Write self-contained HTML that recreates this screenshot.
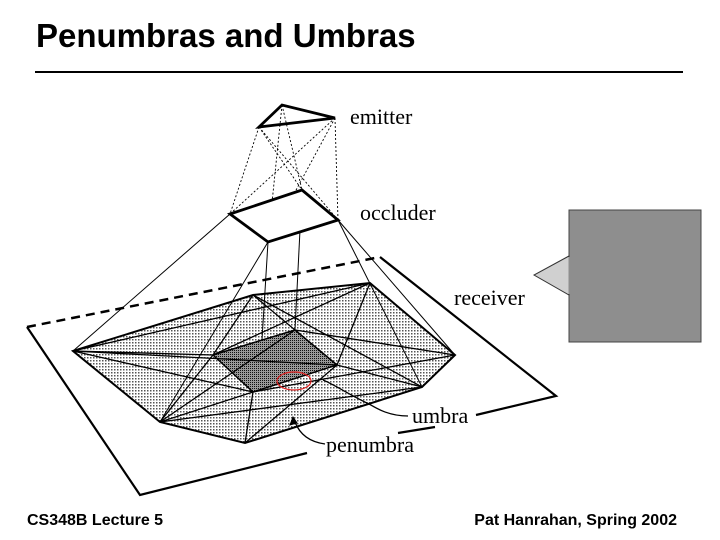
<!DOCTYPE html>
<html><head><meta charset="utf-8"><style>
body{margin:0;width:720px;height:540px;background:#fff;overflow:hidden;position:relative}
.t{position:absolute;font-family:"Liberation Sans",sans-serif;font-weight:bold;color:#000;white-space:nowrap}
</style></head><body>
<div class="t" style="left:36px;top:17px;font-size:33px">Penumbras and Umbras</div>
<div style="position:absolute;left:35px;top:71px;width:648px;height:2px;background:#000"></div>
<div class="t" style="left:27px;top:512px;font-size:16px">CS348B Lecture 5</div>
<div class="t" style="right:43px;top:512px;font-size:16px">Pat Hanrahan, Spring 2002</div>
<svg width="720" height="540" style="position:absolute;left:0;top:0" xmlns="http://www.w3.org/2000/svg">
<defs>
<pattern id="d" width="3" height="3" patternUnits="userSpaceOnUse"><rect width="3" height="3" fill="#fff"/><rect width="1.5" height="1.5" fill="#555"/></pattern>
<pattern id="u" width="2" height="2" patternUnits="userSpaceOnUse"><rect width="2" height="2" fill="#999"/><rect width="1" height="1" fill="#111"/></pattern>
</defs>
<g fill="none" stroke="#000">
<path d="M27,327 L380,257" stroke-width="2.5" stroke-dasharray="9,6"/>
<path d="M380,257 L556,396 L476,415 M435,427 L398,433 M307,453 L140,495 L27,327" stroke-width="2.2"/>
<polygon points="73,351 253,295 370,283 455,355 422,387 245,443 160,422" fill="url(#d)" stroke-width="2"/>
<polygon points="213,355 295,330 337,365 253,392" fill="url(#u)" stroke-width="1.5"/>
<g stroke-width="1.3">
<path d="M73,351 L213,355 L370,283"/>
<path d="M73,351 L337,365 L422,387"/>
<path d="M253,295 L295,330 L455,355"/>
<path d="M253,295 L213,355 L160,422"/>
<path d="M370,283 L337,365 L245,443"/>
<path d="M160,422 L253,392 L455,355"/>
<path d="M245,443 L253,392 L73,351"/>
<path d="M160,422 L422,387"/>
<path d="M73,351 L370,283"/>
<path d="M253,295 L422,387"/>
<path d="M160,422 L295,330"/>
</g>
<g stroke-width="1">
<path d="M230,214 L73,351"/>
<path d="M338,220 L455,355"/>
<path d="M338,220 L422,387"/>
<path d="M268,242 L160,422"/>
<path d="M268,242 L262,340"/>
<path d="M302,190 L295,330"/>
</g>
<g stroke-width="0.9" stroke-dasharray="2,2">
<path d="M259,127 L230,214 M259,127 L338,220 M282,105 L268,242 M282,105 L302,190 M335,118 L230,214 M335,118 L268,242 M335,118 L338,220 M259,127 L302,190"/>
</g>
<polygon points="230,214 302,190 338,220 268,242" stroke-width="2.8" fill="#fff"/>
<polygon points="259,127 282,105 335,118" stroke-width="2.8"/>
<path d="M408,416 C385,416 372,405 367,403 C350,395 335,385 323,380" stroke-width="1.3"/>
<path d="M325,444 C310,442 300,435 295,422" stroke-width="1.3"/>
<polygon points="293,417 290,425 297,423" fill="#000"/>
<ellipse cx="294" cy="381" rx="17" ry="9" stroke="#e02020" stroke-width="1.2"/>
</g>
<g font-family="Liberation Serif,serif" font-size="22" fill="#000">
<text x="350" y="124">emitter</text>
<text x="360" y="220">occluder</text>
<text x="454" y="305">receiver</text>
<text x="412" y="423">umbra</text>
<text x="326" y="452">penumbra</text>
</g>
<rect x="569" y="210" width="132" height="132" fill="#8e8e8e" stroke="#444" stroke-width="1"/>
<polygon points="569,256 534,275 569,295" fill="#d0d0d0" stroke="#333" stroke-width="1"/>
<line x1="569" y1="257" x2="569" y2="294" stroke="#8e8e8e" stroke-width="1"/>
</svg>
</body></html>
